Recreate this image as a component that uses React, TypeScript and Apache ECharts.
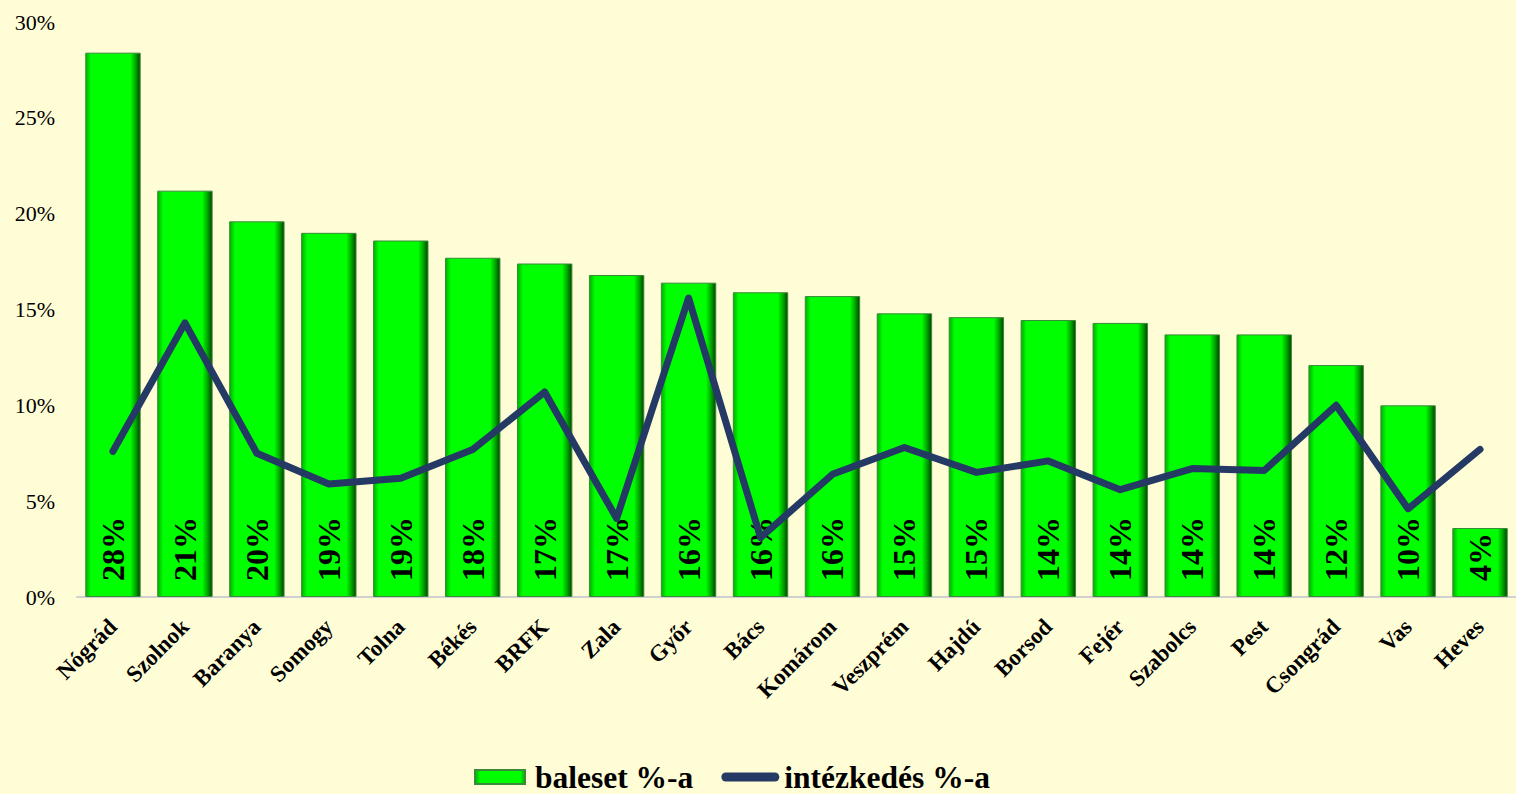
import React, { useEffect, useRef } from "react";
import * as echarts from "echarts";

const categories = ["Nógrád", "Szolnok", "Baranya", "Somogy", "Tolna", "Békés", "BRFK", "Zala", "Győr", "Bács", "Komárom", "Veszprém", "Hajdú", "Borsod", "Fejér", "Szabolcs", "Pest", "Csongrád", "Vas", "Heves"];
const baleset = [28.4, 21.2, 19.6, 19.0, 18.6, 17.7, 17.4, 16.8, 16.4, 15.9, 15.7, 14.8, 14.6, 14.45, 14.3, 13.7, 13.7, 12.1, 10.0, 3.6];
const intezkedes = [7.6, 14.3, 7.5, 5.9, 6.2, 7.7, 10.7, 4.1, 15.6, 3.1, 6.4, 7.8, 6.5, 7.1, 5.6, 6.7, 6.6, 10.0, 4.6, 7.7];
const yTicks = [0, 5, 10, 15, 20, 25, 30];

const serif = "Liberation Serif";

export default function App() {
  const ref = useRef<HTMLDivElement>(null);
  useEffect(() => {
    if (!ref.current) return;
    const chart = echarts.init(ref.current, null, { renderer: "svg" });
    const barGradient = new echarts.graphic.LinearGradient(0, 0, 1, 0, [
      { offset: 0, color: "#00b000" },
      { offset: 0.1, color: "#00ff00" },
      { offset: 0.82, color: "#00ff00" },
      { offset: 0.92, color: "#00a000" },
      { offset: 1, color: "#004400" },
    ]);
    chart.setOption({
      animation: false,
      backgroundColor: "#fffdd6",
      grid: { left: 77, right: -9, top: 22, bottom: 197 },
      legend: {
        top: 756,
        left: 466,
        itemWidth: 58,
        itemHeight: 14,
        itemGap: 28,
        textStyle: { fontFamily: serif, fontWeight: "bold", fontSize: 31.5, color: "#000" },
        data: [
          { name: "baleset %-a", icon: "path://M0,0 M3,0 H53 V14 H3 Z M58,14" },
          {
            name: "intézkedés %-a",
            icon: "path://M0,0 M4.5,2.5 H53.5 A4.5,4.5 0 0 1 53.5,11.5 H4.5 A4.5,4.5 0 0 1 4.5,2.5 Z M58,14",
          },
        ],
      },
      xAxis: {
        type: "category",
        data: categories,
        axisLine: { lineStyle: { color: "#d0d0d0", width: 2 } },
        axisTick: { show: false },
        axisLabel: {
          rotate: 45,
          interval: 0,
          margin: 26,
          fontFamily: serif,
          fontWeight: "bold",
          fontSize: 23,
          color: "#000",
        },
      },
      yAxis: {
        type: "value",
        min: yTicks[0],
        max: yTicks[yTicks.length - 1],
        interval: 5,
        splitLine: { show: false },
        axisLine: { show: false },
        axisTick: { show: false },
        axisLabel: {
          formatter: (v: number) => v + "%",
          margin: 22,
          fontFamily: serif,
          fontSize: 22,
          color: "#000",
        },
      },
      series: [
        {
          name: "baleset %-a",
          type: "bar",
          data: baleset,
          barCategoryGap: "23%",
          itemStyle: { color: barGradient, borderColor: "#3a8a3a", borderWidth: 1 },
          label: {
            show: true,
            position: "insideBottom",
            rotate: 90,
            align: "left",
            verticalAlign: "middle",
            distance: 16,
            formatter: (p: any) => Math.round(p.value) + "%",
            fontFamily: serif,
            fontWeight: "bold",
            fontSize: 32,
            color: "#000",
          },
        },
        {
          name: "intézkedés %-a",
          type: "line",
          data: intezkedes,
          symbol: "none",
          lineStyle: { color: "#243a64", width: 7, cap: "round", join: "round" },
          itemStyle: { color: "#243a64" },
          z: 5,
        },
      ],
    });
    return () => chart.dispose();
  }, []);
  return <div ref={ref} style={{ position: "fixed", left: 0, top: 0, width: 1516, height: 794 }} />;
}
